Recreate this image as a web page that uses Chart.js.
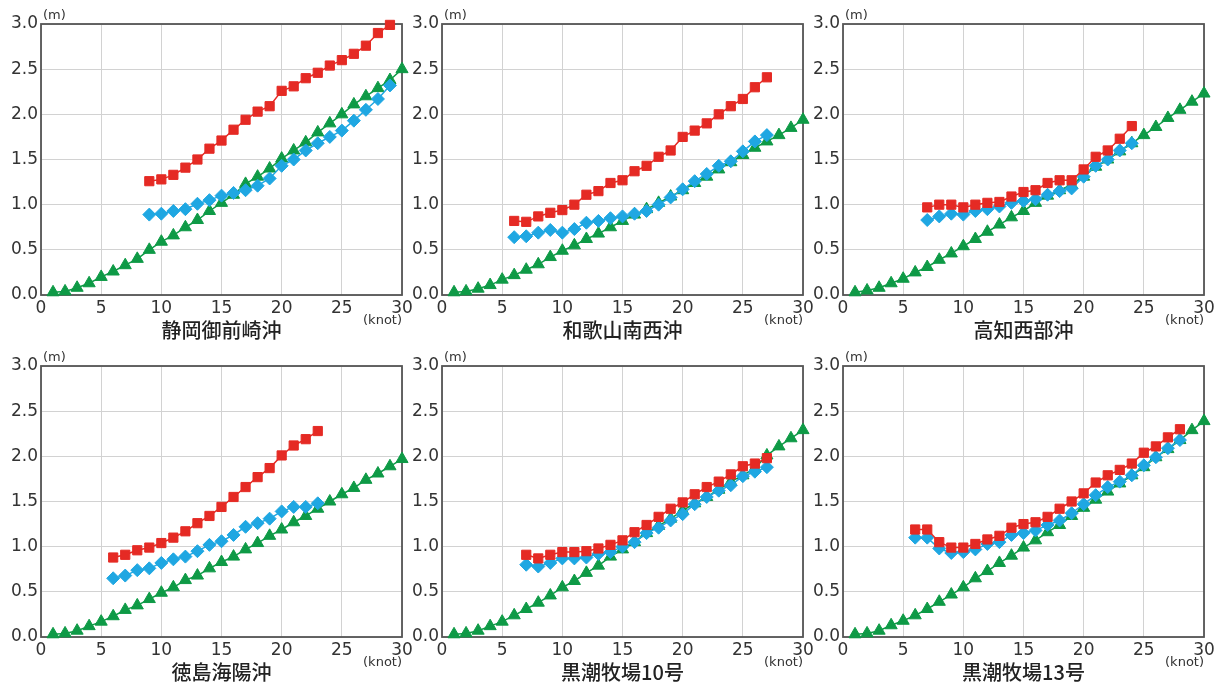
<!DOCTYPE html>
<html lang="ja">
<head>
<meta charset="UTF-8">
<title>Wave height vs wind speed</title>
<script src="https://cdn.jsdelivr.net/npm/chart.js"></script>
<style>
  body { margin: 0; background: #fff; }
  #wrap { position: relative; width: 1224px; height: 688px; overflow: hidden; }
  canvas { position: absolute; }
</style>
</head>
<body>
<div id="wrap"></div>
<script>
// station names (x-axis titles)
const stations = ["静岡御前崎沖", "和歌山南西沖", "高知西部沖", "徳島海陽沖", "黒潮牧場10号", "黒潮牧場13号"];

// wind speed (knot) for green series, all panels
const knots = [1,2,3,4,5,6,7,8,9,10,11,12,13,14,15,16,17,18,19,20,21,22,23,24,25,26,27,28,29,30];

// first knot of the red / blue series in each panel
const redFrom  = [9, 6, 7, 6, 7, 6];
const blueFrom = [9, 6, 7, 6, 7, 6];

// green triangles (m)
const greenShizuoka = [0.03,0.04,0.08,0.13,0.20,0.26,0.33,0.40,0.50,0.59,0.66,0.75,0.83,0.93,1.02,1.11,1.23,1.31,1.40,1.51,1.60,1.69,1.80,1.90,2.00,2.11,2.20,2.29,2.38,2.50];
const greenWakayama = [0.03,0.04,0.07,0.11,0.17,0.22,0.28,0.34,0.42,0.49,0.55,0.62,0.68,0.75,0.82,0.89,0.95,1.02,1.09,1.16,1.24,1.31,1.39,1.47,1.55,1.63,1.70,1.77,1.85,1.94];
const greenKochi    = [0.03,0.05,0.08,0.13,0.18,0.25,0.31,0.39,0.46,0.54,0.62,0.70,0.78,0.86,0.93,1.02,1.10,1.16,1.22,1.31,1.42,1.50,1.59,1.68,1.77,1.86,1.96,2.05,2.14,2.23];
const greenTokushima= [0.03,0.04,0.07,0.12,0.17,0.23,0.30,0.35,0.42,0.49,0.55,0.63,0.68,0.76,0.83,0.89,0.97,1.04,1.12,1.19,1.27,1.34,1.42,1.50,1.58,1.65,1.74,1.81,1.89,1.97];
const greenK10      = [0.03,0.04,0.07,0.12,0.17,0.24,0.31,0.38,0.46,0.55,0.62,0.71,0.79,0.89,0.97,1.05,1.15,1.23,1.31,1.40,1.48,1.55,1.63,1.72,1.79,1.87,2.01,2.11,2.20,2.29];
const greenK13      = [0.03,0.04,0.07,0.13,0.18,0.24,0.31,0.39,0.47,0.55,0.65,0.73,0.82,0.90,0.99,1.07,1.16,1.24,1.34,1.43,1.52,1.61,1.70,1.79,1.88,1.99,2.08,2.18,2.29,2.39];

// red squares (m)
const redShizuoka  = [1.26,1.28,1.33,1.41,1.50,1.62,1.71,1.83,1.94,2.03,2.09,2.26,2.31,2.40,2.46,2.54,2.60,2.67,2.76,2.90,2.99];
const redWakayama  = [0.82,0.81,0.87,0.91,0.94,1.00,1.11,1.15,1.24,1.27,1.37,1.43,1.53,1.60,1.75,1.82,1.90,2.00,2.09,2.17,2.30,2.41];
const redKochi     = [0.97,1.00,1.00,0.97,1.00,1.02,1.03,1.09,1.14,1.16,1.24,1.27,1.27,1.39,1.53,1.60,1.73,1.87];
const redTokushima = [0.88,0.91,0.96,0.99,1.04,1.10,1.17,1.26,1.34,1.44,1.55,1.66,1.77,1.87,2.01,2.12,2.19,2.28];
const redK10       = [0.91,0.87,0.91,0.94,0.94,0.95,0.98,1.02,1.07,1.16,1.24,1.33,1.42,1.49,1.58,1.66,1.72,1.80,1.89,1.92,1.98];
const redK13       = [1.19,1.19,1.05,0.99,0.99,1.03,1.08,1.12,1.21,1.25,1.27,1.33,1.42,1.50,1.59,1.71,1.79,1.85,1.92,2.04,2.11,2.21,2.30];

// blue diamonds (m)
const blueShizuoka  = [0.89,0.90,0.93,0.95,1.01,1.05,1.10,1.13,1.16,1.21,1.29,1.43,1.50,1.60,1.68,1.75,1.82,1.93,2.05,2.17,2.32];
const blueWakayama  = [0.64,0.65,0.69,0.72,0.69,0.73,0.80,0.82,0.85,0.87,0.90,0.93,1.00,1.08,1.17,1.26,1.34,1.43,1.48,1.59,1.70,1.77];
const blueKochi     = [0.83,0.87,0.90,0.89,0.93,0.95,0.98,1.02,1.04,1.06,1.11,1.15,1.18,1.31,1.43,1.50,1.60,1.68];
const blueTokushima = [0.65,0.68,0.74,0.76,0.82,0.86,0.89,0.95,1.02,1.06,1.13,1.22,1.26,1.31,1.39,1.44,1.44,1.48];
const blueK10       = [0.80,0.78,0.82,0.87,0.87,0.88,0.92,0.94,1.00,1.05,1.15,1.21,1.29,1.36,1.47,1.55,1.62,1.68,1.78,1.83,1.88];
const blueK13       = [1.10,1.10,0.98,0.93,0.94,0.97,1.03,1.05,1.13,1.15,1.18,1.24,1.29,1.37,1.47,1.57,1.66,1.72,1.79,1.90,1.99,2.09,2.18];

const greens = [greenShizuoka, greenWakayama, greenKochi, greenTokushima, greenK10, greenK13];
const reds   = [redShizuoka, redWakayama, redKochi, redTokushima, redK10, redK13];
const blues  = [blueShizuoka, blueWakayama, blueKochi, blueTokushima, blueK10, blueK13];

const RED = "#e52a24", BLUE = "#1fa7e2", GREEN = "#0e9a46";

// canvas placement: [left, top]
const spots = [[0, 0], [401, 0], [802, 0], [0, 342], [401, 342], [802, 342]];

function toPoints(vals, from) {
    return vals.map((v, i) => ({ x: from + i, y: v }));
}

// frame box + unit labels
const frame = {
    id: "frame",
    beforeDatasetsDraw(chart) {
        const a = chart.chartArea, ctx = chart.ctx;
        ctx.save();
        ctx.strokeStyle = "#555";
        ctx.lineWidth = 1.8;
        ctx.strokeRect(a.left, a.top, a.right - a.left, a.bottom - a.top);
        ctx.restore();
    },
    afterDraw(chart) {
        const a = chart.chartArea, ctx = chart.ctx;
        ctx.save();
        ctx.fillStyle = "#333";
        ctx.font = "13px 'DejaVu Sans'";
        ctx.textBaseline = "middle";
        ctx.textAlign = "left";
        ctx.fillText("(m)", a.left + 2, a.top - 8);
        ctx.textAlign = "right";
        ctx.fillText("(knot)", a.right, a.bottom + 26);
        ctx.restore();
    }
};

const wrap = document.getElementById("wrap");

stations.forEach((name, k) => {
    const cv = document.createElement("canvas");
    cv.width = 420;
    cv.height = 345;
    cv.style.left = spots[k][0] + "px";
    cv.style.top = spots[k][1] + "px";
    wrap.appendChild(cv);

    const lineSet = (label, pts, color, style, r) => ({
        label: label,
        data: pts,
        borderColor: color,
        backgroundColor: color,
        borderWidth: 1.5,
        pointStyle: style,
        pointRadius: r,
        pointBorderWidth: 1,
        clip: false
    });

    new Chart(cv.getContext("2d"), {
        type: "line",
        data: {
            datasets: [
                lineSet("red", toPoints(reds[k], redFrom[k]), RED, "rect", 6.5),
                lineSet("blue", toPoints(blues[k], blueFrom[k]), BLUE, "rectRot", 6.5),
                lineSet("green", toPoints(greens[k], knots[0]), GREEN, "triangle", 7)
            ]
        },
        options: {
            responsive: false,
            animation: false,
            devicePixelRatio: 1,
            layout: { padding: { top: 24, right: 18, left: 0, bottom: 0 } },
            plugins: { legend: { display: false }, tooltip: { enabled: false } },
            scales: {
                x: {
                    type: "linear",
                    min: 0, max: 30,
                    afterFit(s) { s.height = 50; },
                    ticks: { stepSize: 5, padding: 3, color: "#333", font: { family: "DejaVu Sans", size: 17 } },
                    grid: { color: "#d2d2d2", drawTicks: false },
                    border: { display: false },
                    title: {
                        display: true,
                        text: name,
                        color: "#222",
                        padding: { top: 0, bottom: 3 },
                        font: { family: "Noto Sans CJK JP", size: 20, weight: "500" }
                    }
                },
                y: {
                    min: 0, max: 3,
                    afterFit(s) { s.width = 41; },
                    ticks: {
                        stepSize: 0.5, padding: 3, color: "#333",
                        font: { family: "DejaVu Sans", size: 17 },
                        callback: v => v.toFixed(1)
                    },
                    grid: { color: "#d2d2d2", drawTicks: false },
                    border: { display: false }
                }
            }
        },
        plugins: [frame]
    });
});
</script>
</body>
</html>
